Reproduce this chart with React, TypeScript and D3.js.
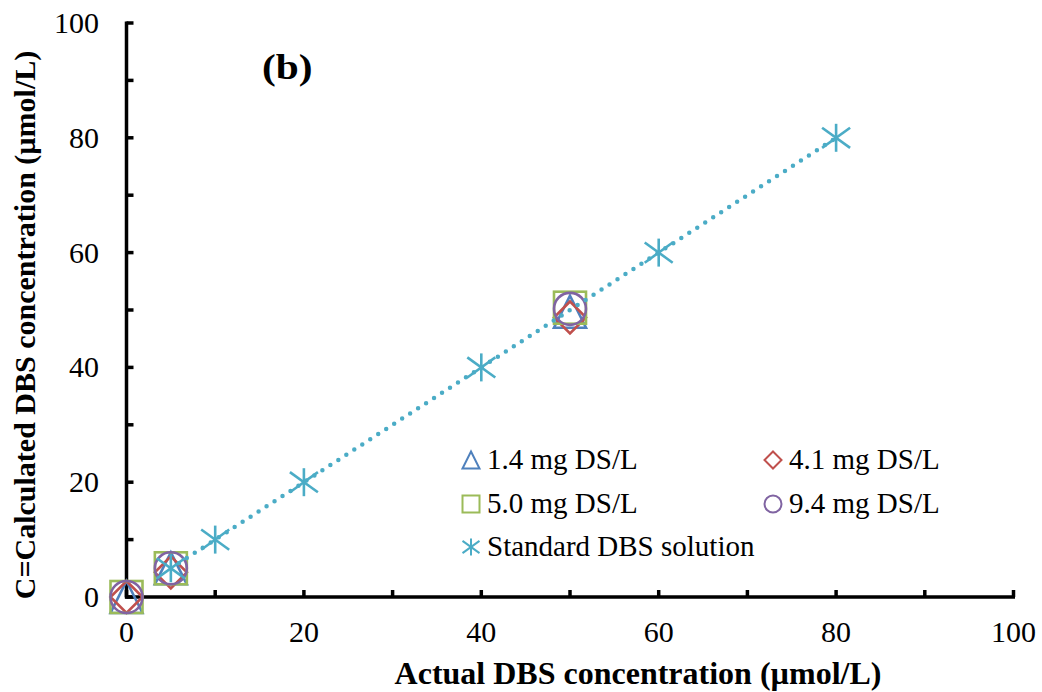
import React from "react";
import * as d3 from "d3";

const seriesNames = ["1.4 mg DS/L", "4.1 mg DS/L", "5.0 mg DS/L", "9.4 mg DS/L", "Standard DBS solution"];
const seriesColors = ["#4F81BD", "#C0504D", "#9BBB59", "#8064A2", "#4BACC6"];
const seriesShapes = ["triangle", "diamond", "square", "circle", "star"];

const xActual14 = [0, 5, 50];
const yCalc14 = [0, 5.0, 49.7];
const xActual41 = [0, 5, 50];
const yCalc41 = [0, 4.3, 48.7];
const xActual50 = [0, 5, 50];
const yCalc50 = [0, 5.0, 50.4];
const xActual94 = [0, 5, 50];
const yCalc94 = [0, 5.0, 50.2];
const xStandard = [5, 10, 20, 40, 60, 80];
const yStandard = [5, 10, 20, 40, 60, 80];

const trendX = [5, 80];
const trendSlope = 1.0;
const trendIntercept = 0;

const xTicks = [0, 20, 40, 60, 80, 100];
const yTicks = [0, 20, 40, 60, 80, 100];
const minorTicks = [0, 10, 20, 30, 40, 50, 60, 70, 80, 90, 100];

const W = 1042, H = 692;
const FONT = '"Liberation Serif", "DejaVu Serif", serif';

function Marker({ shape, color, cx, cy, s, sw }: { shape: string; color: string; cx: number; cy: number; s: number; sw: number }) {
  const h = s / 2;
  if (shape === "triangle") {
    const pts = [[cx, cy - h], [cx + h, cy + h], [cx - h, cy + h]].map(p => p.join(",")).join(" ");
    return <polygon points={pts} fill="none" stroke={color} strokeWidth={sw} strokeLinejoin="miter" />;
  }
  if (shape === "diamond") {
    const pts = [[cx, cy - h], [cx + h, cy], [cx, cy + h], [cx - h, cy]].map(p => p.join(",")).join(" ");
    return <polygon points={pts} fill="none" stroke={color} strokeWidth={sw} />;
  }
  if (shape === "square") {
    return <rect x={cx - h} y={cy - h} width={s} height={s} fill="none" stroke={color} strokeWidth={sw} />;
  }
  if (shape === "circle") {
    return <circle cx={cx} cy={cy} r={h} fill="none" stroke={color} strokeWidth={sw} />;
  }
  return (
    <g stroke={color} strokeWidth={sw} fill="none">
      <line x1={cx} y1={cy - h} x2={cx} y2={cy + h} />
      <line x1={cx - h} y1={cy - h * 0.72} x2={cx + h} y2={cy + h * 0.72} />
      <line x1={cx - h} y1={cy + h * 0.72} x2={cx + h} y2={cy - h * 0.72} />
    </g>
  );
}

export default function App() {
  const x = d3.scaleLinear().domain([0, 100]).range([126.5, 1013.5]);
  const y = d3.scaleLinear().domain([0, 100]).range([597, 23]);

  const pointSeries = [
    { xs: xActual14, ys: yCalc14 },
    { xs: xActual41, ys: yCalc41 },
    { xs: xActual50, ys: yCalc50 },
    { xs: xActual94, ys: yCalc94 },
  ];

  const trendLine = d3.line<number>().x(d => x(d)).y(d => y(trendSlope * d + trendIntercept));

  const legendCols = [471, 773];
  const legendRows = [460, 504, 547];
  const legendItems = seriesNames.map((_, i) => ({ i, lx: legendCols[i % 2], ly: legendRows[Math.floor(i / 2)] }));

  const ts: React.CSSProperties = { fontFamily: FONT };

  return (
    <svg width={W} height={H} style={{ position: "absolute", left: 0, top: 0, background: "#fff", fontFamily: FONT }}>
      <rect x={0} y={0} width={W} height={H} fill="#fff" />
      <g stroke="#000" strokeWidth={3.5} fill="none">
        <line x1={x(0)} y1={y(100) - 1.5} x2={x(0)} y2={y(0) + 1.5} />
        <line x1={x(0) - 1.5} y1={y(0)} x2={x(100) + 1.5} y2={y(0)} />
        {minorTicks.map(t => (
          <line key={"xt" + t} x1={x(t)} y1={y(0)} x2={x(t)} y2={y(0) - 7} />
        ))}
        {minorTicks.map(t => (
          <line key={"yt" + t} x1={x(0)} y1={y(t)} x2={x(0) + 7} y2={y(t)} />
        ))}
      </g>
      {xTicks.map(t => (
        <text key={"xl" + t} x={x(t)} y={642} textAnchor="middle" fontSize={30} style={ts}>{t}</text>
      ))}
      {yTicks.map(t => (
        <text key={"yl" + t} x={99} y={y(t) + 10} textAnchor="end" fontSize={30} style={ts}>{t}</text>
      ))}
      {pointSeries.map((s, si) => (
        <g key={"s" + si}>
          {s.xs.map((xv, k) => (
            <Marker key={k} shape={seriesShapes[si]} color={seriesColors[si]} cx={x(xv)} cy={y(s.ys[k])} s={32} sw={2.6} />
          ))}
        </g>
      ))}
      <path d={trendLine(trendX) || ""} fill="none" stroke={seriesColors[4]} strokeWidth={4.5} strokeLinecap="round" strokeDasharray="0 9.5" />
      {xStandard.map((xv, k) => (
        <Marker key={"st" + k} shape="star" color={seriesColors[4]} cx={x(xv)} cy={y(yStandard[k])} s={28} sw={2.6} />
      ))}
      {legendItems.map(({ i, lx, ly }) => (
        <g key={"lg" + i}>
          <Marker shape={seriesShapes[i]} color={seriesColors[i]} cx={lx} cy={ly} s={17} sw={2} />
          <text x={lx + 16} y={ly + 9} fontSize={29} style={ts}>{seriesNames[i]}</text>
        </g>
      ))}
      <text x={262} y={79} fontSize={36} fontWeight="bold" style={ts} transform="translate(262,0) scale(1.15,1) translate(-262,0)">(b)</text>
      <text x={638} y={684} textAnchor="middle" fontSize={32} fontWeight="bold" style={ts}>Actual DBS concentration (µmol/L)</text>
      <text transform="translate(35,325) rotate(-90)" textAnchor="middle" fontSize={30} fontWeight="bold" style={ts}>C=Calculated DBS concentration (µmol/L)</text>
    </svg>
  );
}
